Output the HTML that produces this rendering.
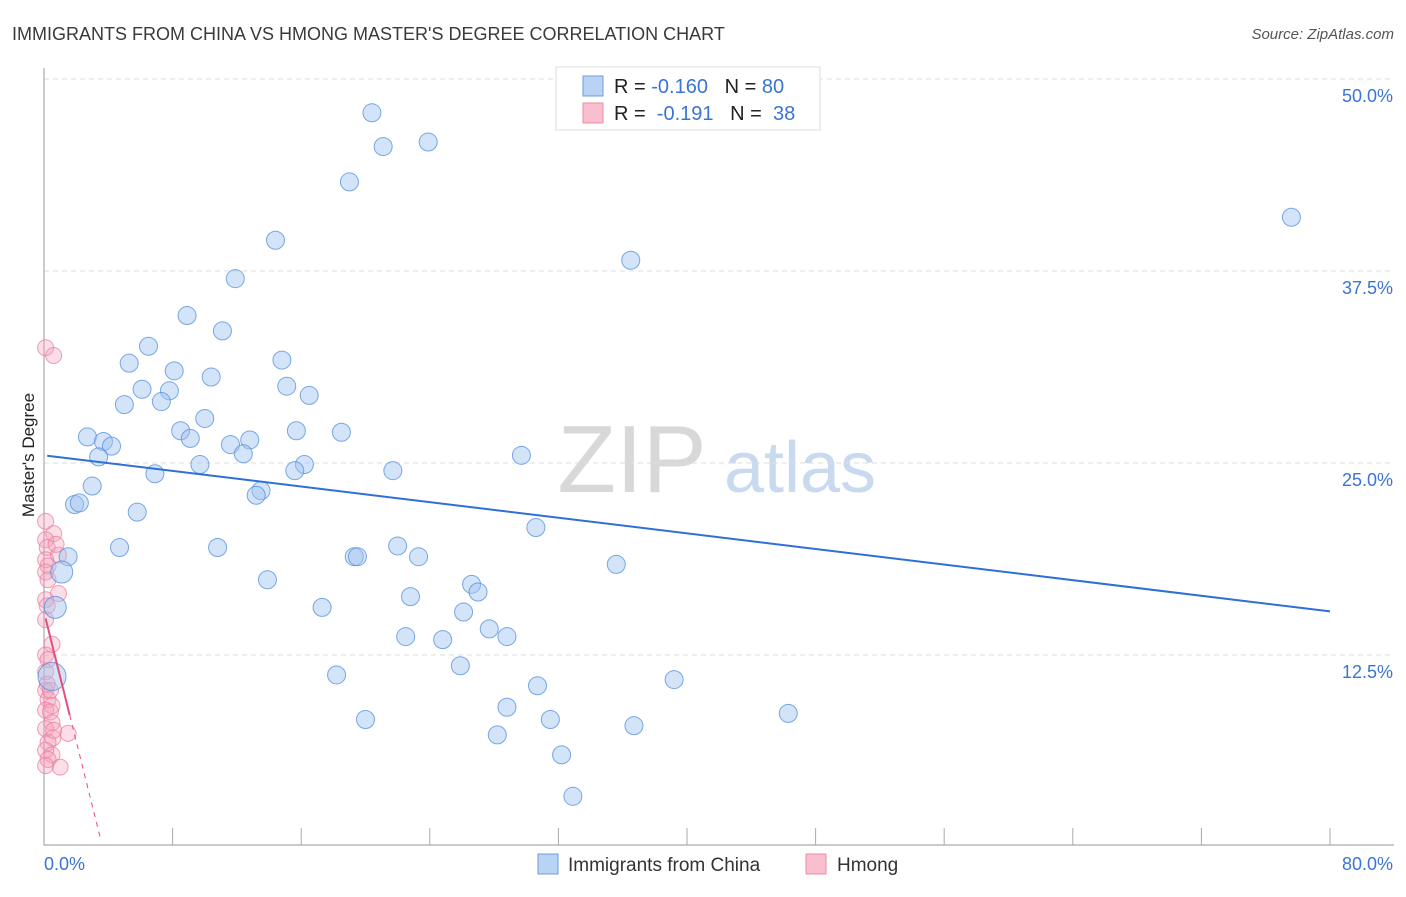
<!DOCTYPE html>
<html><head><meta charset="utf-8"><style>
body{margin:0;background:#fff;font-family:"Liberation Sans",sans-serif;}
svg text{font-family:"Liberation Sans",sans-serif;}
</style></head><body>
<svg id="chart" width="1406" height="892" viewBox="0 0 1406 892" xmlns="http://www.w3.org/2000/svg">
<text x="12" y="40" font-size="18" fill="#3a3a3a">IMMIGRANTS FROM CHINA VS HMONG MASTER'S DEGREE CORRELATION CHART</text>
<text x="1394" y="39" font-size="15" fill="#555" text-anchor="end" font-style="italic">Source: ZipAtlas.com</text>
<g>
<text x="632" y="492" font-size="96" fill="#d8d8d8" text-anchor="middle" font-family="Liberation Serif, serif">ZIP</text>
<text x="800" y="492" font-size="72" fill="#c8d9f0" text-anchor="middle">atlas</text>
</g>
<g id="grid"></g>
<g id="axes"></g>
<g id="pts"></g>
<g id="lines"></g>
<text transform="translate(34,455) rotate(-90)" font-size="17" fill="#222" text-anchor="middle">Master's Degree</text>
<g>
<rect x="556" y="67" width="264" height="63" fill="#fff" stroke="#ddd"/>
<rect x="583" y="76" width="20" height="20" fill="#b9d3f5" stroke="#6b9de0"/>
<text x="614" y="93" font-size="20" fill="#222">R = <tspan fill="#3b74d4">-0.160</tspan>&#160;&#160;&#160;N = <tspan fill="#3b74d4">80</tspan></text>
<rect x="583" y="103" width="20" height="20" fill="#f8c0cf" stroke="#ec8aa6"/>
<text x="614" y="120" font-size="20" fill="#222">R = &#160;<tspan fill="#3b74d4">-0.191</tspan>&#160;&#160;&#160;N = &#160;<tspan fill="#3b74d4">38</tspan></text>
</g>
<g>
<rect x="538" y="854" width="20" height="20" fill="#b9d3f5" stroke="#6b9de0"/>
<text x="568" y="871" font-size="19" fill="#333">Immigrants from China</text>
<rect x="806" y="854" width="20" height="20" fill="#f8c0cf" stroke="#ec8aa6"/>
<text x="837" y="871" font-size="19" fill="#333">Hmong</text>
</g>
</svg>
<script>
const yTicks=[12.5,25,37.5,50];
const yTickLabels=["12.5%","25.0%","37.5%","50.0%"];
const xTicks=[0,8,16,24,32,40,48,56,64,72,80];
const chinaX=[20.4,21.1,23.9,19.0,14.4,36.5,77.6,11.9,8.9,11.1,6.5,5.3,14.8,8.1,10.4,15.1,6.1,7.8,16.5,5.0,7.3,10.0,8.5,15.7,18.5,9.1,2.7,3.7,4.2,11.6,12.8,3.4,12.4,29.7,9.7,16.2,15.6,6.9,21.7,3.0,13.5,13.2,1.9,2.2,5.8,30.6,4.7,10.8,22.0,1.5,19.3,19.5,23.3,35.6,1.1,13.9,26.6,27.0,22.8,0.7,17.3,26.1,27.7,28.8,22.5,24.8,25.9,0.5,18.2,39.2,30.7,28.8,46.3,20.0,31.5,36.7,28.2,32.2,32.9];
const chinaY=[47.8,45.6,45.9,43.3,39.5,38.2,41.0,37.0,34.6,33.6,32.6,31.5,31.7,31.0,30.6,30.0,29.8,29.7,29.4,28.8,29.0,27.9,27.1,27.1,27.0,26.6,26.7,26.4,26.1,26.2,26.5,25.4,25.6,25.5,24.9,24.9,24.5,24.3,24.5,23.5,23.2,22.9,22.3,22.4,21.8,20.8,19.5,19.5,19.6,18.9,18.9,18.9,18.9,18.4,17.9,17.4,17.1,16.6,16.3,15.6,15.6,15.3,14.2,13.7,13.7,13.5,11.8,11.1,11.2,10.9,10.5,9.1,8.7,8.3,8.3,7.9,7.3,6.0,3.3];
const hmongX=[0.1,0.6,0.1,0.6,0.1,0.2,0.9,0.1,0.25,0.1,0.25,0.9,0.1,0.2,0.5,0.1,0.25,0.1,0.2,0.1,0.25,0.5,0.1,0.4,0.5,0.1,1.5,0.55,0.25,0.1,0.5,0.25,1.0,0.1,0.6,0.4,0.1,0.75];
const hmongY=[32.5,32.0,21.2,20.4,20.0,19.5,19.0,18.7,18.3,17.9,17.4,16.5,16.1,15.7,13.2,12.5,12.2,11.4,10.6,10.2,9.6,9.2,8.9,8.8,8.1,7.7,7.4,7.1,6.8,6.3,6.0,5.7,5.2,5.3,7.6,10.2,14.8,19.7];
const chinaFit=[25.5,-0.127]; // intercept, slope
const hmongFit=[15.3,-4.2];
const X=v=>44+v*16.075, Y=v=>847-v*15.36;
const NS="http://www.w3.org/2000/svg";
function mk(tag,attrs,parent){const e=document.createElementNS(NS,tag);for(const k in attrs)e.setAttribute(k,attrs[k]);document.getElementById(parent).appendChild(e);return e;}
yTicks.forEach((t,i)=>{
 const g=mk('line',{x1:44,x2:1394,y1:Y(t),y2:Y(t),stroke:'#ddd','stroke-dasharray':'5,4'},'grid');
 
 
 const tx=mk('text',{x:1393,y:Y(t)+23,'font-size':18,fill:'#3b74d4','text-anchor':'end'},'axes');
 tx.textContent=yTickLabels[i];
 
 
});
const ax=mk('path',{d:'M44 68V845H1394',fill:'none',stroke:'#aaa','stroke-width':1.2},'axes');


xTicks.forEach(t=>{
 const l=mk('line',{x1:X(t),x2:X(t),y1:828,y2:845,stroke:'#aaa'},'axes');
 
 
});
const xl0=mk('text',{x:44,y:870,'font-size':18,fill:'#3b74d4'},'axes');xl0.textContent='0.0%';


const xl1=mk('text',{x:1393,y:870,'font-size':18,fill:'#3b74d4','text-anchor':'end'},'axes');xl1.textContent='80.0%';


hmongX.forEach((x,i)=>{
 const c=mk('circle',{cx:X(x),cy:Y(hmongY[i]),r:8,fill:'rgba(244,160,185,0.35)',stroke:'rgba(236,120,155,0.7)'},'pts');
 
 
});
chinaX.forEach((x,i)=>{
 const r=x<0.6?14:(x<1.2?11:9);
 const c=mk('circle',{cx:X(x),cy:Y(chinaY[i]),r:r,fill:'rgba(160,195,240,0.45)',stroke:'rgba(80,140,220,0.75)'},'pts');
 
 
});
const bl=mk('line',{x1:X(0.2),y1:Y(chinaFit[0]+chinaFit[1]*0.2),x2:X(80),y2:Y(chinaFit[0]+chinaFit[1]*80),stroke:'#2f6fd6','stroke-width':2},'lines');


const pl=mk('line',{x1:X(0.1),y1:Y(hmongFit[0]+hmongFit[1]*0.1),x2:X(1.6),y2:Y(hmongFit[0]+hmongFit[1]*1.6),stroke:'#e3507c','stroke-width':2},'lines');


const pd=mk('line',{x1:X(1.6),y1:Y(hmongFit[0]+hmongFit[1]*1.6),x2:X(3.5),y2:Y(hmongFit[0]+hmongFit[1]*3.5),stroke:'#e3507c','stroke-width':1,'stroke-dasharray':'5,5'},'lines');


</script>
</body></html>
